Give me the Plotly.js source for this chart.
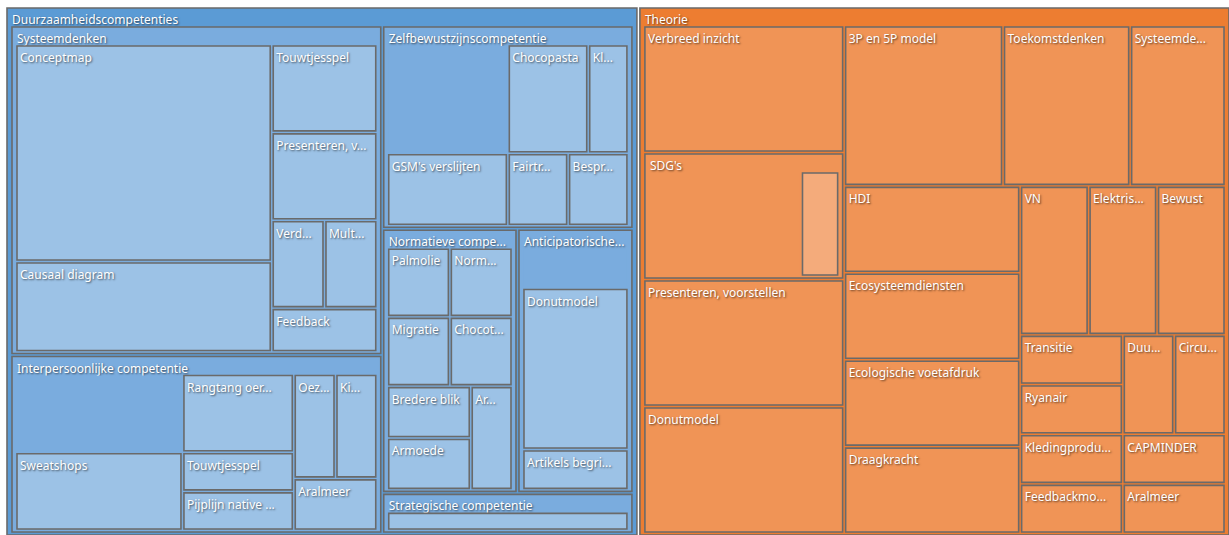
<!DOCTYPE html>
<html>
<head>
<meta charset="utf-8">
<script src="https://cdn.plot.ly/plotly-3.0.1.min.js"></script>
<style>
  html, body { margin: 0; padding: 0; background: #ffffff; overflow: hidden; width: 1229px; height: 535px; position: relative; }
  #chart { position: absolute; left: 2px; top: -11px; width: 1232px; height: 549px; }
</style>
</head>
<body>
<div id="chart"></div>
<script>
// ---- Data ----
// "Own" values are the parts of a category that have no sub-item (drawn in the category's own colour).
const groups = ["Duurzaamheidscompetenties", "Theorie"];

const competenties = ["Systeemdenken", "Interpersoonlijke competentie", "Zelfbewustzijnscompetentie",
  "Normatieve compe...", "Anticipatorische...", "Strategische competentie"];
const competentieOwn = [0, 3, 3, 0, 1, 0];

const systeemdenkenLabels = ["Conceptmap", "Causaal diagram", "Touwtjesspel", "Presenteren, v...", "Verd...", "Mult...", "Feedback"];
const systeemdenkenValues = [12, 5, 2, 2, 1, 1, 1];

const interpersoonlijkLabels = ["Sweatshops", "Rangtang oer...", "Touwtjesspel", "Pijplijn native ...", "Oez...", "Ki...", "Aralmeer"];
const interpersoonlijkValues = [3, 2, 1, 1, 1, 1, 1];

const zelfbewustLabels = ["GSM's verslijten", "Chocopasta", "Kl...", "Fairtr...", "Bespr..."];
const zelfbewustValues = [2, 2, 1, 1, 1];

const normatiefLabels = ["Palmolie", "Norm...", "Migratie", "Chocot...", "Bredere blik", "Armoede", "Ar..."];
const normatiefValues = [1, 1, 1, 1, 1, 1, 1];

const anticipatorischLabels = ["Donutmodel", "Artikels begri..."];
const anticipatorischValues = [4, 1];

const strategischLabels = [""];
const strategischValues = [2];

const theorieLabels = ["Verbreed inzicht", "SDG's", "Presenteren, voorstellen", "Donutmodel", "3P en 5P model",
  "Toekomstdenken", "Systeemde...", "HDI", "Ecosysteemdiensten", "Ecologische voetafdruk", "Draagkracht",
  "VN", "Elektris...", "Bewust", "Transitie", "Ryanair", "Kledingprodu...", "Feedbackmo...", "Duu...", "Circu...",
  "CAPMINDER", "Aralmeer"];
const theorieOwn = [5, 4, 5, 5, 5, 4, 3, 3, 3, 3, 3, 2, 2, 2, 1, 1, 1, 1, 1, 1, 1, 1];

const sdgLabels = [""];
const sdgValues = [1];

// ---- Build hierarchy ----
const ids = [], labels = [], parents = [], values = [], depth = [], grp = [], isOwn = [];
function add(id, label, parent, value, d, g, own) {
  ids.push(id); labels.push(label); parents.push(parent); values.push(value);
  depth.push(d); grp.push(g); isOwn.push(!!own);
}
groups.forEach((g, gi) => add(g, g, "", 0, 1, gi, false));

const compChildren = [
  [systeemdenkenLabels, systeemdenkenValues],
  [interpersoonlijkLabels, interpersoonlijkValues],
  [zelfbewustLabels, zelfbewustValues],
  [normatiefLabels, normatiefValues],
  [anticipatorischLabels, anticipatorischValues],
  [strategischLabels, strategischValues]
];
competenties.forEach((c, ci) => {
  const cid = groups[0] + "/" + c;
  add(cid, c, groups[0], 0, 2, 0, false);
  if (competentieOwn[ci] > 0) add(cid + "/(own)", "", cid, competentieOwn[ci], 3, 0, true);
  const [ls, vs] = compChildren[ci];
  ls.forEach((l, li) => add(cid + "/" + li + ":" + l, l, cid, vs[li], 3, 0, false));
});
theorieLabels.forEach((t, ti) => {
  const tid = groups[1] + "/" + t;
  if (t === "SDG's") {
    add(tid, t, groups[1], 0, 2, 1, false);
    add(tid + "/(own)", "", tid, theorieOwn[ti], 3, 1, true);
    sdgLabels.forEach((l, li) => add(tid + "/" + li + ":" + l, l, tid, sdgValues[li], 3, 1, false));
  } else {
    add(tid, t, groups[1], theorieOwn[ti], 2, 1, false);
  }
});

// ---- Styling ----
const palette = [
  ["#5B9BD5", "#7AACDE", "#9CC2E6"],
  ["#ED7D31", "#F09456", "#F4AB7B"]
];
const colors = ids.map((id, i) => palette[grp[i]][isOwn[i] ? depth[i] - 2 : depth[i] - 1]);
const lineWidths = ids.map((id, i) => isOwn[i] ? 0 : 1.6);

const font = {
  family: "'Segoe UI', 'Noto Sans', 'Open Sans', sans-serif",
  size: 12,
  color: "#ffffff",
  shadow: "1px 1px 2px rgba(0,0,0,0.6)"
};

const trace = {
  type: "treemap",
  ids: ids,
  labels: labels,
  parents: parents,
  values: values,
  branchvalues: "remainder",
  sort: false,
  textinfo: "label",
  textposition: "top left",
  textfont: font,
  insidetextfont: font,
  outsidetextfont: font,
  marker: {
    colors: colors,
    line: { color: "#6A6A6A", width: lineWidths },
    pad: { t: 19, l: 5, r: 5, b: 3 }
  },
  tiling: { packing: "squarify", squarifyratio: 1.618034 },
  pathbar: { visible: false },
  hoverinfo: "label+value"
};

const layout = {
  width: 1232,
  height: 549,
  margin: { l: 0, r: 0, t: 0, b: 0 },
  paper_bgcolor: "rgba(0,0,0,0)",
  uniformtext: { mode: "show", minsize: 12 },
  showlegend: false
};

Plotly.newPlot("chart", [trace], layout, { displayModeBar: false, responsive: false });
</script>
</body>
</html>
